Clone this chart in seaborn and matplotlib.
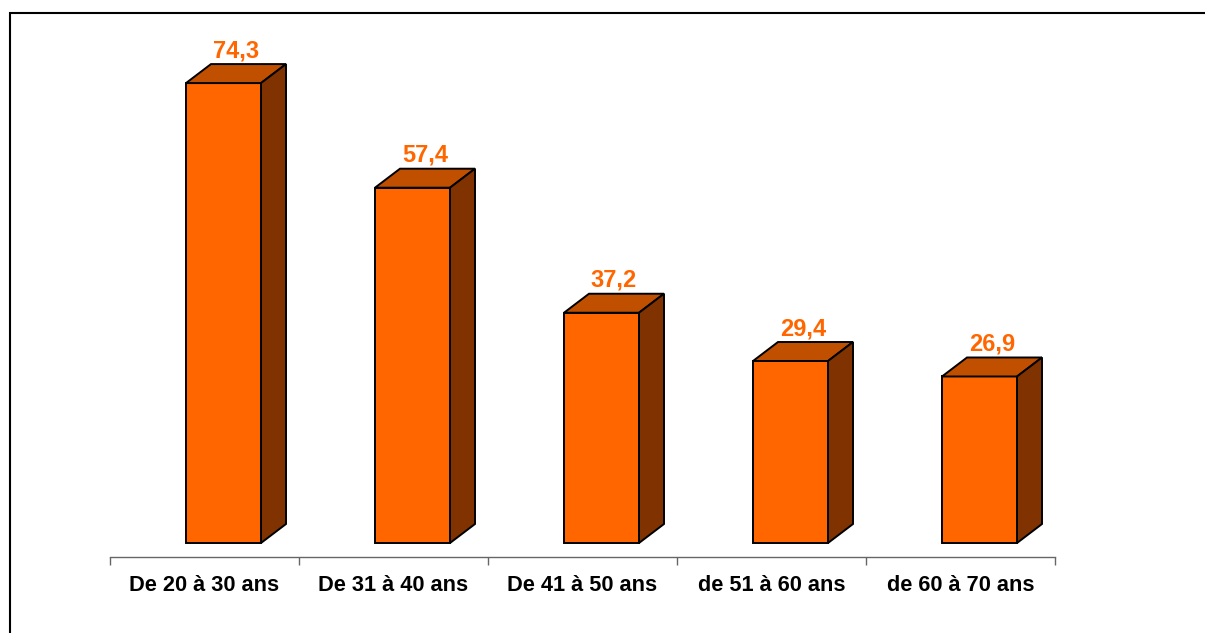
import matplotlib
matplotlib.use('Agg')
import matplotlib.pyplot as plt
import seaborn as sns
import pandas as pd
from matplotlib.patches import Polygon, Rectangle

categories = ["De 20 à 30 ans", "De 31 à 40 ans", "De 41 à 50 ans", "de 51 à 60 ans", "de 60 à 70 ans"]
values = [74.3, 57.4, 37.2, 29.4, 26.9]
value_labels = ["74,3", "57,4", "37,2", "29,4", "26,9"]

sns.set_theme(style="white")
plt.rcParams['font.family'] = ['Liberation Sans', 'DejaVu Sans']

W, H = 1205, 633
fig = plt.figure(figsize=(W / 100, H / 100), dpi=100)
fig.patch.set_facecolor('white')
ax_left, ax_right = 110, 1055
ax_bottom_px = 557
ax_top_px = 20
ax = fig.add_axes([ax_left / W, (H - ax_bottom_px) / H, (ax_right - ax_left) / W,
                   (ax_bottom_px - ax_top_px) / H])
px_per_unit = 6.19
cat_px = (ax_right - ax_left) / 5
ybot = -14 / px_per_unit
lw = 1.4

df = pd.DataFrame({"cat": categories, "val": values})
sns.barplot(data=df, x="cat", y="val", color="#FF6600", width=75 / cat_px,
            edgecolor="black", linewidth=lw, saturation=1, ax=ax, zorder=3)

ax.set_xlim(-0.5, 4.5)
ax.set_ylim(ybot, ybot + (ax_bottom_px - ax_top_px) / px_per_unit)

dx = 25 / cat_px
dy = 19 / px_per_unit
shift = 19 / cat_px
for p, lab in zip(ax.patches, value_labels):
    p.set_x(p.get_x() + shift)
    x0 = p.get_x()
    x1 = x0 + p.get_width()
    b = p.get_y()
    t = b + p.get_height()
    top = Polygon([(x0, t), (x1, t), (x1 + dx, t + dy), (x0 + dx, t + dy)], closed=True,
                  facecolor="#C05000", edgecolor="black", linewidth=lw, zorder=3)
    side = Polygon([(x1, b), (x1 + dx, b + dy), (x1 + dx, t + dy), (x1, t)], closed=True,
                   facecolor="#803300", edgecolor="black", linewidth=lw, zorder=3)
    ax.add_patch(top)
    ax.add_patch(side)
    ax.annotate(lab, xy=((x0 + x1 + dx) / 2, t + dy), xytext=(0, 5), textcoords="offset points",
                ha="center", va="baseline", fontsize=17, fontweight="bold", color="#FF6600")

ax.set_xlabel("")
ax.set_ylabel("")
ax.set_yticks([])
ax.set_xticks(range(len(categories)))
ax.set_xticklabels(categories, fontsize=15.7, fontweight="bold", color="black")
ax.set_xticks([i - 0.5 for i in range(len(categories) + 1)], minor=True)
ax.tick_params(axis="x", which="major", length=0, pad=13, bottom=True)
ax.tick_params(axis="x", which="minor", length=6, width=1, color="#666666", direction="out", bottom=True)
for s in ["left", "top", "right"]:
    ax.spines[s].set_visible(False)
ax.spines["bottom"].set_color("#666666")
ax.spines["bottom"].set_linewidth(1)
ax.set_facecolor("none")

fig.add_artist(Rectangle((10 / W, -0.1), 1.2, (H - 13) / H + 0.1, transform=fig.transFigure,
                         fill=False, edgecolor="black", linewidth=1.5))

fig.savefig("out.png", dpi=100)
